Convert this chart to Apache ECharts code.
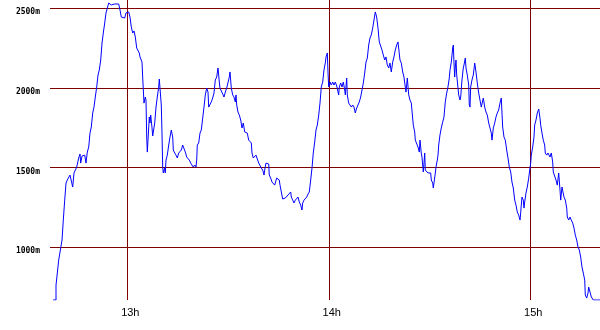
<!DOCTYPE html>
<html>
<head>
<meta charset="utf-8">
<script src="https://cdn.jsdelivr.net/npm/echarts@6/dist/echarts.min.js"></script>
<style>
html,body{margin:0;padding:0;background:#fff;}
#c{width:600px;height:330px;}
</style>
</head>
<body>
<div id="c"></div>
<script>
// time in minutes after 12:00
const minutesAfterNoon = [
37.88,38.77,38.77,39.16,39.57,40.17,40.56,40.94,41.36,41.75,42.13,42.55,42.94,43.33,43.74,44.13,44.52,44.93,45.53,45.92,
46.12,46.51,46.90,47.32,47.70,48.09,48.51,48.89,49.28,49.70,50.08,50.47,50.89,51.28,51.66,52.08,52.47,52.85,53.27,53.66,
54.04,54.46,54.85,55.24,55.65,56.25,56.84,57.44,57.83,58.22,58.81,59.23,59.61,60.00,60.42,60.80,61.19,61.61,62.00,62.38,
62.80,63.19,63.57,63.78,64.38,64.59,64.97,65.36,65.57,65.78,65.96,66.16,66.55,66.76,66.97,67.36,67.56,67.95,68.16,68.55,
68.93,69.35,69.53,69.95,70.12,70.33,70.54,70.72,71.14,71.31,71.52,71.91,72.33,72.71,73.10,73.52,73.70,74.11,74.50,74.89,
75.31,75.69,76.08,76.50,76.88,77.27,77.69,78.08,78.46,78.88,79.27,79.65,80.07,80.46,80.67,80.84,81.26,81.65,82.03,82.45,
82.84,83.23,83.64,84.03,84.24,84.63,85.01,85.43,85.82,86.20,86.62,87.01,87.40,87.60,87.99,88.41,88.79,89.18,89.60,89.99,
90.37,90.58,90.97,91.39,91.77,92.16,92.37,92.58,92.96,93.35,93.77,94.15,94.54,94.96,95.35,95.73,96.15,96.54,96.93,97.13,
97.52,97.94,98.32,98.71,99.13,99.51,99.90,100.32,100.71,100.91,101.30,101.69,102.11,102.28,102.70,103.09,103.47,103.89,104.28,104.49,
104.87,105.26,105.47,105.86,106.27,106.66,107.05,107.47,107.85,108.24,108.66,108.84,109.25,109.64,110.03,110.44,110.83,111.22,111.63,112.02,
112.23,112.62,113.00,113.42,113.81,114.19,114.61,115.00,115.38,115.80,116.19,116.58,117.00,117.38,117.77,118.19,118.57,118.96,119.17,119.56,
119.76,119.97,120.36,120.75,121.17,121.55,121.94,122.36,122.74,122.95,123.13,123.55,123.93,124.32,124.74,124.92,125.33,125.51,125.93,126.31,
126.70,127.12,127.51,127.89,128.31,128.70,129.08,129.50,129.89,130.28,130.69,131.08,131.47,131.88,132.27,132.66,133.07,133.46,133.85,134.06,
134.26,134.65,135.04,135.46,135.84,136.23,136.65,137.03,137.42,137.84,138.22,138.61,139.03,139.41,139.80,140.22,140.61,140.81,141.20,141.59,
142.01,142.39,142.78,142.99,143.38,143.80,144.18,144.57,144.99,145.16,145.58,145.76,146.17,146.56,146.95,147.16,147.54,147.75,148.14,148.35,
148.56,148.74,149.15,149.54,149.93,150.34,150.52,150.94,151.12,151.33,151.72,151.92,152.31,152.52,152.73,153.11,153.50,153.92,154.30,154.69,
155.11,155.49,155.88,156.09,156.48,156.69,156.90,157.08,157.28,157.49,157.67,157.88,158.09,158.47,158.68,159.07,159.28,159.66,160.05,160.26,
160.65,160.86,161.24,161.66,161.84,162.05,162.25,162.64,163.03,163.45,163.63,163.83,164.22,164.64,165.02,165.41,165.83,166.01,166.42,166.81,
167.20,167.62,168.00,168.39,168.60,168.99,169.40,169.79,170.18,170.59,170.98,171.37,171.57,171.78,172.17,172.56,172.97,173.36,173.75,174.17,
174.55,174.94,175.36,175.74,176.13,176.55,176.94,177.14,177.32,177.53,177.92,178.13,178.33,178.72,179.11,179.53,179.91,180.12,180.30,180.72,
181.10,181.31,181.70,182.09,182.51,182.68,182.89,183.10,183.49,183.87,184.29,184.47,184.89,185.27,185.66,185.87,186.26,186.67,186.85,187.27,
187.66,188.04,188.46,188.85,189.06,189.44,189.83,190.04,190.43,190.85,191.02,191.44,191.82,192.21,192.63,193.02,193.40,193.82,194.21,194.60,
195.01,195.40,195.79,196.21,196.38,196.80,197.19,197.39,197.78,198.17,198.58,198.76,200.76
];
// altitude in metres
const altitudeM = [
670,670,764,839,920,996,1046,1171,1296,1403,1422,1434,1453,1447,1378,1466,1484,1503,1560,1585,
1528,1572,1566,1578,1528,1597,1629,1716,1754,1842,1879,1942,2005,2080,2111,2174,2280,2343,2406,2469,
2475,2531,2537,2519,2531,2525,2531,2525,2487,2443,2431,2437,2469,2469,2475,2443,2381,2343,2356,2318,
2249,2237,2218,2193,2161,2061,1904,1942,1923,1691,1597,1672,1817,1779,1829,1748,1698,1698,1779,1879,
1942,2005,2055,2049,1892,1716,1503,1466,1497,1466,1547,1578,1641,1691,1735,1691,1610,1591,1578,1560,
1591,1597,1610,1641,1629,1597,1566,1572,1547,1528,1535,1503,1516,1503,1547,1641,1654,1716,1735,1810,
1879,1955,1998,1973,1879,1873,1911,1936,1967,2049,2067,2124,2036,1998,1986,1961,1942,1973,1998,2005,
2067,2099,1998,1955,1942,1911,1955,1892,1848,1829,1798,1748,1779,1723,1735,1716,1672,1660,1654,1591,
1560,1566,1578,1566,1528,1535,1497,1484,1453,1484,1528,1535,1522,1453,1434,1409,1403,1390,1378,1434,
1434,1422,1390,1378,1303,1303,1309,1315,1328,1321,1347,1315,1296,1278,1296,1284,1315,1284,1265,1234,
1278,1296,1284,1315,1334,1347,1422,1497,1591,1660,1735,1766,1829,1904,2005,2036,2111,2155,2193,2218,
2099,2005,2036,2017,2036,2017,2036,2011,2017,1955,2005,2030,2005,2036,1986,1955,2061,1955,1904,1892,
1879,1892,1879,1842,1873,1879,1911,1942,1986,2030,2092,2161,2186,2268,2312,2331,2374,2425,2475,2487,
2443,2374,2287,2280,2237,2205,2174,2193,2143,2124,2155,2099,2161,2193,2237,2268,2287,2299,2174,2155,
2099,2067,2005,1973,2061,1955,1923,1904,1892,1766,1723,1672,1660,1629,1597,1672,1591,1566,1472,1528,
1591,1484,1472,1466,1472,1466,1422,1403,1372,1365,1466,1503,1547,1578,1641,1704,1748,1785,1817,1911,
1967,2005,2061,2111,2161,2205,2249,2268,2155,2067,2130,2174,2080,2092,1955,1923,1942,2049,2124,2143,
2186,2124,2080,2017,1892,1879,2005,2049,2080,2155,2130,2099,2030,1967,1923,1879,1873,1936,1879,1848,
1829,1779,1748,1716,1672,1748,1779,1817,1842,1861,1904,1936,1842,1754,1691,1672,1610,1560,1503,1472,
1409,1372,1296,1265,1221,1202,1171,1215,1265,1315,1296,1246,1284,1340,1378,1434,1497,1528,1578,1629,
1691,1766,1798,1842,1867,1873,1810,1766,1716,1672,1641,1591,1578,1591,1597,1566,1591,1535,1472,1466,
1422,1390,1466,1359,1296,1378,1390,1315,1296,1246,1190,1171,1190,1171,1152,1121,1077,1046,1002,983,
939,876,839,795,701,682,714,751,720,689,682,670,670
];
const hourTicks = [60, 120, 180];          // 13h, 14h, 15h (minutes after noon)
const altitudeTicks = [1000, 1500, 2000, 2500];

const seriesData = minutesAfterNoon.map((t, i) => [t, altitudeM[i]]);

const chart = echarts.init(document.getElementById('c'), null, {renderer: 'canvas'});
chart.setOption({
  animation: false,
  backgroundColor: '#ffffff',
  grid: {left: 50, right: 0, top: 0, bottom: 30, containLabel: false},
  xAxis: {
    type: 'value',
    min: 36.98,
    max: 200.76,
    axisLine: {show: false},
    axisTick: {show: false, customValues: hourTicks},
    axisLabel: {
      customValues: hourTicks,
      formatter: v => (12 + Math.round(v / 60)) + 'h',
      color: '#000',
      fontFamily: 'Liberation Sans, Arial, sans-serif',
      fontSize: 11,
      margin: 7,
      padding: [0, 0, 0, 6]
    },
    splitLine: {show: true, lineStyle: {color: '#800000', width: 1}}
  },
  yAxis: {
    type: 'value',
    min: 670,
    max: 2550,
    axisLine: {show: false},
    axisTick: {show: false, customValues: altitudeTicks},
    axisLabel: {
      customValues: altitudeTicks,
      formatter: v => v + 'm',
      color: '#000',
      fontFamily: 'DejaVu Sans Mono, monospace',
      fontSize: 8,
      fontWeight: 'bold',
      margin: 10,
      verticalAlign: 'top'
    },
    splitLine: {show: true, lineStyle: {color: '#800000', width: 1}}
  },
  series: [{
    type: 'line',
    data: seriesData,
    showSymbol: false,
    symbol: 'none',
    smooth: false,
    lineStyle: {color: '#0000ff', width: 1},
    clip: true
  }]
});
</script>
</body>
</html>
